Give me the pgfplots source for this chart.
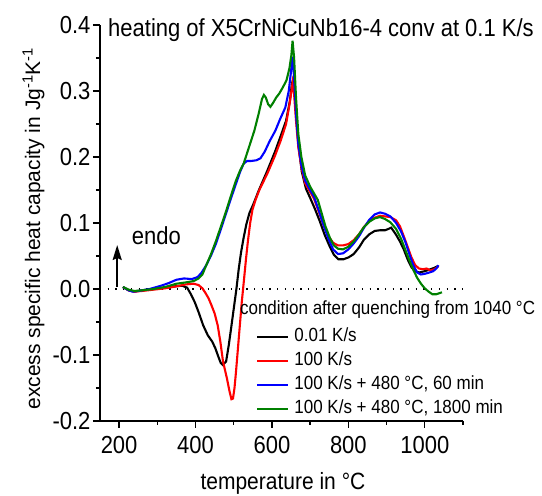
\documentclass[border=0pt]{standalone}
\usepackage{fontspec}
\setmainfont{Liberation Sans}
\usepackage{pgfplots}
\usepackage{pgfplotstable}
\pgfplotsset{compat=1.18}
\usetikzlibrary{arrows.meta}
\definecolor{ogreen}{RGB}{0,128,0}
\newcommand{\vs}[1]{\scalebox{1}[1.12]{#1}}

\pgfplotstableread{
x y
210 0.003
225 -0.002
240 -0.004
260 -0.002
290 0.000
320 0.002
345 0.004
365 0.005
378 0.002
388 -0.008
398 -0.020
408 -0.035
420 -0.055
432 -0.070
444 -0.080
452 -0.090
460 -0.103
466 -0.112
471 -0.115
480 -0.110
487 -0.085
493 -0.060
500 -0.030
507 0.000
513 0.030
519 0.055
526 0.078
533 0.098
541 0.115
551 0.128
566 0.150
587 0.178
608 0.208
623 0.232
637 0.255
647 0.285
652 0.310
655 0.317
659 0.300
664 0.260
670 0.215
678 0.178
689 0.152
700 0.138
712 0.122
725 0.103
738 0.082
750 0.066
762 0.052
774 0.045
787 0.045
801 0.048
814 0.053
828 0.063
841 0.075
855 0.083
869 0.088
883 0.089
896 0.089
905 0.091
912 0.093
918 0.088
925 0.082
935 0.072
945 0.060
955 0.045
965 0.033
975 0.027
985 0.025
1000 0.027
1015 0.030
1025 0.032
1035 0.035
}\blackdata

\pgfplotstableread{
x y
210 0.003
225 -0.002
240 -0.004
260 -0.003
290 -0.001
320 0.001
350 0.004
375 0.007
395 0.008
408 0.006
418 0.001
426 -0.006
434 -0.014
442 -0.025
450 -0.037
458 -0.055
465 -0.080
472 -0.110
482 -0.135
489 -0.155
494 -0.167
498 -0.166
502 -0.150
506 -0.125
511 -0.090
516 -0.055
521 -0.020
527 0.015
532 0.045
537 0.072
543 0.100
549 0.120
557 0.135
567 0.150
588 0.175
608 0.202
623 0.225
637 0.250
646 0.280
651 0.300
654 0.312
658 0.295
663 0.255
669 0.215
677 0.185
687 0.160
700 0.147
710 0.137
722 0.118
735 0.097
748 0.080
760 0.070
773 0.066
786 0.066
800 0.068
814 0.074
828 0.083
841 0.094
855 0.103
869 0.108
883 0.111
896 0.110
910 0.109
925 0.104
935 0.095
945 0.080
955 0.064
965 0.048
975 0.036
985 0.031
995 0.030
1005 0.031
1015 0.028
1025 0.030
1035 0.034
}\reddata

\pgfplotstableread{
x y
210 0.003
225 -0.002
235 -0.004
250 -0.003
280 0.000
310 0.005
330 0.009
350 0.014
370 0.016
390 0.015
405 0.018
415 0.024
428 0.036
440 0.050
453 0.068
466 0.090
479 0.113
492 0.136
505 0.158
517 0.178
526 0.190
535 0.194
546 0.194
559 0.195
570 0.198
581 0.208
594 0.224
609 0.240
621 0.257
635 0.275
644 0.300
649 0.325
654 0.352
658 0.320
663 0.265
669 0.220
677 0.188
687 0.164
700 0.150
710 0.140
722 0.120
735 0.097
748 0.076
760 0.060
773 0.053
786 0.054
800 0.060
814 0.069
828 0.080
841 0.093
855 0.105
869 0.113
883 0.116
896 0.114
910 0.110
925 0.100
938 0.087
950 0.070
960 0.052
970 0.036
980 0.025
990 0.022
1000 0.023
1012 0.025
1022 0.027
1030 0.031
1036 0.036
}\bluedata

\pgfplotstableread{
x y
210 0.003
225 -0.001
240 -0.003
260 -0.002
290 0.000
320 0.003
350 0.008
375 0.010
395 0.012
408 0.016
418 0.022
428 0.036
440 0.052
453 0.072
466 0.094
479 0.116
492 0.140
505 0.163
517 0.180
526 0.190
540 0.215
554 0.240
565 0.265
574 0.288
579 0.294
584 0.290
590 0.280
596 0.276
603 0.282
611 0.290
619 0.296
628 0.305
638 0.316
646 0.335
651 0.355
654 0.376
658 0.350
663 0.290
669 0.235
677 0.200
687 0.172
700 0.155
710 0.145
720 0.135
730 0.115
740 0.095
752 0.077
762 0.066
773 0.061
786 0.060
800 0.064
814 0.072
828 0.083
841 0.094
855 0.102
869 0.107
883 0.109
896 0.106
910 0.101
925 0.091
938 0.076
950 0.058
960 0.043
970 0.029
980 0.017
990 0.008
1000 0.001
1010 -0.004
1020 -0.008
1030 -0.008
1040 -0.006
1045 -0.005
}\greendata

\begin{document}
\begin{tikzpicture}
\begin{axis}[
  name=ax,
  scale only axis, width=363pt, height=396pt,
  xmin=150, xmax=1100, ymin=-0.2, ymax=0.4,
  axis x line*=bottom, axis y line*=left,
  axis line style={line width=1.6pt},
  tick align=outside,
  major tick length=7pt, minor tick length=4pt,
  every tick/.style={black, line width=1.4pt},
  xtick={200,400,600,800,1000},
  xticklabels={\vs{200},\vs{400},\vs{600},\vs{800},\vs{1000}},
  minor xtick={300,500,700,900,1100},
  ytick={-0.2,-0.1,0,0.1,0.2,0.3,0.4},
  yticklabels={\vs{-0.2},\vs{-0.1},\vs{0.0},\vs{0.1},\vs{0.2},\vs{0.3},\vs{0.4}},
  minor ytick={-0.15,-0.05,0.05,0.15,0.25,0.35},
  tick label style={font=\fontsize{22}{26}\selectfont},
  xticklabel style={yshift=-5pt},
  yticklabel style={xshift=1pt},
  xlabel={\vs{temperature in °C}},
  ylabel={excess specific heat capacity in Jg\textsuperscript{-1}K\textsuperscript{-1}},
  label style={font=\fontsize{21}{25}\selectfont},
  xlabel style={at={(axis description cs:0.504,-0.174)}, anchor=base},
  ylabel style={at={(axis description cs:-0.165,0.486)}, anchor=base},
  clip=false,
  legend style={draw=none, fill=none, at={(0.43,0.232)}, anchor=north west,
    inner sep=0pt, row sep=8pt, font=\fontsize{17}{20}\selectfont,
    nodes={inner sep=0pt, text height=12pt, text depth=4pt}},
  legend cell align=left,
  legend image code/.code={\draw[#1] (0pt,0pt) -- (31pt,0pt);},
  /tikz/every odd column/.append style={column sep=5pt},
]
\addplot[black, line width=1.3pt, dash pattern=on 1.3pt off 6.4pt, forget plot] coordinates {(150,0) (1100,0)};
\addplot[black, line width=2.1pt] table {\blackdata};
\addlegendentry{\vs{0.01 K/s}}
\addplot[red, line width=2.1pt] table {\reddata};
\addlegendentry{\vs{100 K/s}}
\addplot[blue, line width=2.1pt] table {\bluedata};
\addlegendentry{\vs{100 K/s + 480 °C, 60 min}}
\addplot[ogreen, line width=2.1pt] table {\greendata};
\addlegendentry{\vs{100 K/s + 480 °C, 1800 min}}
\node[anchor=base west, inner sep=0pt, font=\fontsize{22}{26}\selectfont] at (axis cs:171,0.383) {\vs{heating of X5CrNiCuNb16-4 conv at 0.1 K/s}};
\node[anchor=base west, inner sep=0pt, font=\fontsize{17}{20}\selectfont] at (axis cs:516,-0.039) {\vs{condition after quenching from 1040 °C}};
\node[anchor=base west, inner sep=0pt, font=\fontsize{22}{26}\selectfont] at (axis cs:233,0.0667) {\vs{endo}};
\draw[-{Stealth[length=15pt,width=9pt,inset=2pt]}, line width=2pt] (axis cs:195,0.003) -- (axis cs:195,0.0667);
\end{axis}
\pgfresetboundingbox
\path[use as bounding box] ([xshift=-100pt,yshift=-75pt]ax.south west) rectangle ([xshift=79pt,yshift=25pt]ax.north east);
\end{tikzpicture}
\end{document}
